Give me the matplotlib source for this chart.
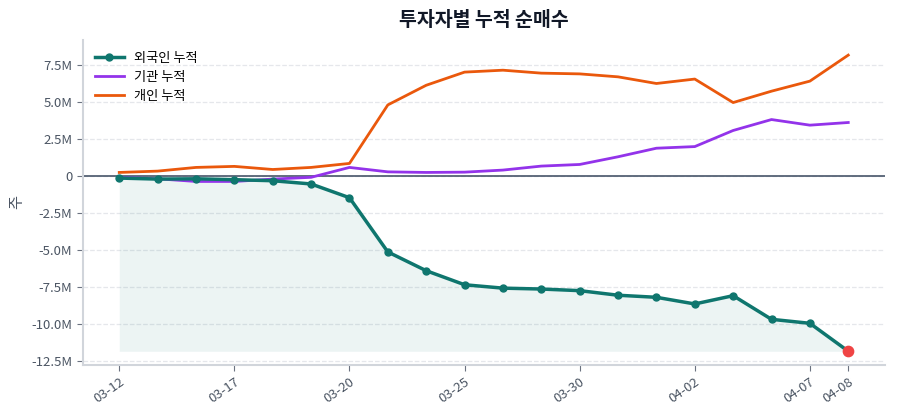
import matplotlib
matplotlib.use("Agg")
import matplotlib.pyplot as plt
from matplotlib.ticker import FuncFormatter

plt.rcParams['font.family'] = ['Noto Sans CJK KR', 'DejaVu Sans']

# 데이터 (거래일, 누적 순매수 - 백만주 단위)
dates = ["03-12", "03-13", "03-16", "03-17", "03-18", "03-19", "03-20",
         "03-23", "03-24", "03-25", "03-26", "03-27", "03-30", "03-31",
         "04-01", "04-02", "04-03", "04-06", "04-07", "04-08"]
foreign = [-0.15, -0.22, -0.20, -0.26, -0.33, -0.55, -1.48, -5.15, -6.42, -7.37,
           -7.60, -7.66, -7.77, -8.08, -8.22, -8.67, -8.11, -9.71, -9.98, -11.87]
institution = [-0.10, -0.20, -0.38, -0.38, -0.22, -0.10, 0.57, 0.27, 0.23, 0.25,
               0.39, 0.66, 0.77, 1.29, 1.87, 1.98, 3.07, 3.81, 3.43, 3.61]
individual = [0.23, 0.32, 0.57, 0.64, 0.43, 0.57, 0.84, 4.80, 6.13, 7.02,
              7.15, 6.95, 6.90, 6.70, 6.25, 6.55, 4.96, 5.73, 6.41, 8.17]
tick_idx = [0, 3, 6, 9, 12, 15, 18, 19]

foreign = [v * 1e6 for v in foreign]
institution = [v * 1e6 for v in institution]
individual = [v * 1e6 for v in individual]
x = list(range(len(dates)))

fig = plt.figure(figsize=(9, 4.2), dpi=100)
ax = fig.add_axes([0.092, 0.131, 0.891, 0.774])

ax.fill_between(x, foreign, min(foreign), color='#0f766e', alpha=0.08, linewidth=0)
ax.plot(x, foreign, color='#0f766e', lw=2.5, marker='o', ms=5, label='외국인 누적', zorder=4)
ax.plot(x, institution, color='#9333ea', lw=2, label='기관 누적', zorder=3)
ax.plot(x, individual, color='#ea580c', lw=2, label='개인 누적', zorder=3)
ax.scatter([x[-1]], [foreign[-1]], s=55, color='#ef4444', zorder=5)
ax.axhline(0, color='#475569', lw=1.2, zorder=2)

ax.set_xlim(-0.95, 19.95)
ax.set_ylim(-12.8e6, 9.2e6)
ax.set_yticks([-12.5e6, -10e6, -7.5e6, -5e6, -2.5e6, 0, 2.5e6, 5e6, 7.5e6])
ax.yaxis.set_major_formatter(FuncFormatter(lambda v, p: "0" if v == 0 else f"{v/1e6:.1f}M"))
ax.set_xticks(tick_idx)
ax.set_xticklabels([dates[i] for i in tick_idx], rotation=35, ha='right', rotation_mode='anchor')

ax.grid(axis='y', color='#e5e7eb', linestyle='--', lw=0.9)
ax.set_axisbelow(True)
for s in ['top', 'right']:
    ax.spines[s].set_visible(False)
for s in ['left', 'bottom']:
    ax.spines[s].set_color('#d1d5db')
    ax.spines[s].set_linewidth(1.5)
ax.tick_params(colors='#4b5563', labelsize=9.5, length=4)
ax.tick_params(axis='both', color='#6b7280')

ax.set_ylabel('주', color='#4b5563', fontsize=11)
ax.set_title('투자자별 누적 순매수', fontsize=14, fontweight='bold', color='#111827', pad=10)
ax.legend(loc='upper left', frameon=False, fontsize=9.5, handlelength=2.2,
          borderaxespad=0.5, labelspacing=0.45)

fig.savefig('out.png', dpi=100)
